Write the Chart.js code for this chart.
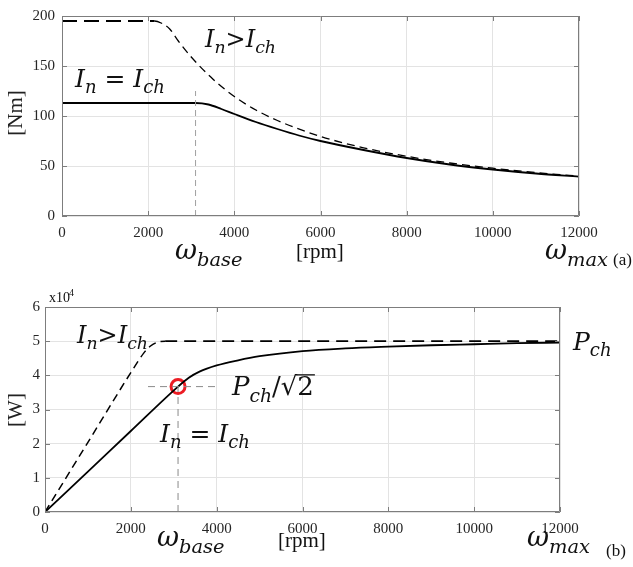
<!DOCTYPE html>
<html>
<head>
<meta charset="utf-8">
<script src="https://cdn.jsdelivr.net/npm/chart.js@4.4.1/dist/chart.umd.min.js"></script>
<style>
  body { margin: 0; background: #fff; }
  #wrap { position: relative; width: 633px; height: 567px; }
  canvas { position: absolute; left: 0; }
  #torqueChart { top: 0; }
  #powerChart { top: 280px; }
</style>
</head>
<body>
<div id="wrap">
  <canvas id="torqueChart" width="633" height="280"></canvas>
  <canvas id="powerChart" width="633" height="287"></canvas>
</div>
<script>
// axis ranges / ticks
const rpmTicks = [0, 2000, 4000, 6000, 8000, 10000, 12000];
const torqueTicks = [0, 50, 100, 150, 200];
const powerTicks = [0, 10000, 20000, 30000, 40000, 50000, 60000];

// (a) torque, I_n > I_ch (dashed)
const tqHighRpm = [0, 2150, 2300, 2500, 2700, 3000, 3500, 4000, 4500, 5000, 6000, 7000, 8000, 9000, 10000, 11000, 12000];
const tqHigh    = [195, 195, 193, 187, 175, 159, 137, 119.5, 106, 95.5, 79.6, 68.2, 59.7, 53, 47.8, 43.4, 39.8];

// (a) torque, I_n = I_ch (solid)
const tqRatedRpm = [0, 3100, 3400, 3700, 4000, 4500, 5000, 5500, 6000, 7000, 8000, 9000, 10000, 11000, 12000];
const tqRated    = [113, 113, 111.5, 107, 102, 94, 87, 80.5, 75, 66, 58, 51.5, 46.5, 42.5, 39.4];

// (b) power, I_n > I_ch (dashed)
const pwHighRpm = [0, 1000, 2000, 2300, 2450, 2600, 2800, 4000, 6000, 8000, 10000, 12000];
const pwHigh    = [0, 20400, 40800, 46500, 48500, 49600, 50000, 50000, 50000, 50000, 50000, 50000];

// (b) power, I_n = I_ch (solid)
const pwRatedRpm = [0, 1000, 2000, 3100, 3350, 3600, 4000, 4500, 5000, 6000, 7000, 8000, 9000, 10000, 11000, 12000];
const pwRated    = [0, 11800, 23700, 36700, 39300, 41100, 42900, 44400, 45600, 47100, 47900, 48400, 48800, 49100, 49400, 49600];

// base speed marker
const baseRpm = [3100];
const basePower = [36700];
const baseTorqueTop = [125];
const basePowerLineRpm = [2400, 4000];

const SERIF = '"Liberation Serif", serif';
const MATH = '"DejaVu Serif", serif';
const zip = (xs, ys) => xs.map((x, i) => ({ x: x, y: ys[i] }));

// draw a formula made of [text, kind] pieces: '' italic, 's' italic subscript, 'u' upright, 'r' radicand with bar, 't' plain text
function drawMath(ctx, x, y, parts, size) {
    let cx = x;
    parts.forEach(p => {
        const kind = p[1] || '';
        const fs = kind === 's' ? size * 0.72 : size;
        const fam = kind === 't' ? SERIF : MATH;
        ctx.font = (kind === '' || kind === 's' ? 'italic ' : '') + fs + 'px ' + fam;
        const dy = kind === 's' ? size * 0.25 : 0;
        ctx.fillText(p[0], cx, y + dy);
        const w = ctx.measureText(p[0]).width;
        if (kind === 'r') ctx.fillRect(cx - 1, y - size * 0.8, w + 2, Math.max(1, size * 0.05));
        cx += w;
    });
}

const framePlugin = {
    id: 'frame',
    afterDraw(chart, args, opts) {
        const ctx = chart.ctx;
        const a = chart.chartArea;
        const xs = chart.scales.x, ys = chart.scales.y;
        ctx.save();
        ctx.strokeStyle = '#7d7d7d';
        ctx.lineWidth = 1;
        ctx.beginPath();
        ctx.rect(a.left + 0.5, a.top + 0.5, a.right - a.left - 1, a.bottom - a.top - 1);
        xs.ticks.forEach(t => {
            const px = Math.round(xs.getPixelForValue(t.value)) + 0.5;
            ctx.moveTo(px, a.bottom); ctx.lineTo(px, a.bottom - 5);
            ctx.moveTo(px, a.top); ctx.lineTo(px, a.top + 5);
        });
        ys.ticks.forEach(t => {
            const py = Math.round(ys.getPixelForValue(t.value)) + 0.5;
            ctx.moveTo(a.left, py); ctx.lineTo(a.left + 5, py);
            ctx.moveTo(a.right, py); ctx.lineTo(a.right - 5, py);
        });
        ctx.stroke();

        ctx.fillStyle = '#111';
        ctx.textBaseline = 'alphabetic';
        ctx.textAlign = 'left';
        (opts.labels || []).forEach(l => drawMath(ctx, l.x, l.y, l.parts, l.size));

        // rotated y title
        ctx.translate(opts.yTitle.x, opts.yTitle.y);
        ctx.rotate(-Math.PI / 2);
        ctx.textAlign = 'center';
        ctx.textBaseline = 'middle';
        ctx.font = '21px ' + SERIF;
        ctx.fillStyle = '#222';
        ctx.fillText(opts.yTitle.text, 0, 0);
        ctx.restore();
    }
};

function axisOptions(min, max, step, yWidth, xHeight, yPad, tickFmt) {
    const tickFont = { family: SERIF, size: 15 };
    return {
        x: {
            type: 'linear', min: 0, max: 12000,
            afterBuildTicks: s => { s.ticks = rpmTicks.map(v => ({ value: v })); },
            afterFit: s => { s.height = xHeight; },
            grid: { color: '#e3e3e3', drawTicks: false },
            border: { display: false },
            ticks: { color: '#262626', font: tickFont, padding: 8, maxRotation: 0, callback: v => String(v) }
        },
        y: {
            type: 'linear', min: min, max: max,
            ticks: { stepSize: step, color: '#262626', font: tickFont, padding: yPad, callback: tickFmt },
            afterFit: s => { s.width = yWidth; },
            grid: { color: '#e3e3e3', drawTicks: false },
            border: { display: false }
        }
    };
}

const solidStyle = { borderColor: '#000', borderWidth: 1.8, pointRadius: 0, fill: false, cubicInterpolationMode: 'monotone' };

// (a) torque chart
new Chart(document.getElementById('torqueChart'), {
    type: 'line',
    data: {
        datasets: [
            {
                data: zip([baseRpm[0], baseRpm[0]], [0, baseTorqueTop[0]]),
                borderColor: '#a0a0a0', borderWidth: 1, borderDash: [6, 4], pointRadius: 0
            },
            Object.assign({}, solidStyle, {
                data: zip(tqHighRpm, tqHigh),
                borderWidth: 1.3,
                segment: {
                    borderWidth: c => c.p0DataIndex === 0 ? 2 : 1.3,
                    borderDash: c => c.p0DataIndex === 0 ? [15, 7] : [8, 5]
                }
            }),
            Object.assign({ data: zip(tqRatedRpm, tqRated) }, solidStyle)
        ]
    },
    options: {
        responsive: false,
        animation: false,
        parsing: false,
        layout: { padding: { left: 0, right: 54, top: 9, bottom: 0 } },
        plugins: {
            legend: { display: false },
            tooltip: { enabled: false },
            frame: {
                yTitle: { text: '[Nm]', x: 16, y: 113 },
                labels: [
                    { x: 205, y: 47, size: 24, parts: [['I'], ['n', 's'], ['>', 'u'], ['I'], ['ch', 's']] },
                    { x: 75, y: 87, size: 25, parts: [['I'], ['n', 's'], [' = ', 'u'], ['I'], ['ch', 's']] },
                    { x: 175, y: 259, size: 27, parts: [['ω'], ['base', 's']] },
                    { x: 296, y: 258, size: 21, parts: [['[rpm]', 't']] },
                    { x: 545, y: 259, size: 27, parts: [['ω'], ['max', 's']] },
                    { x: 613, y: 265, size: 17, parts: [['(a)', 't']] }
                ]
            }
        },
        scales: axisOptions(0, 200, 50, 62, 64, 7, v => v)
    },
    plugins: [framePlugin]
});

// (b) power chart
new Chart(document.getElementById('powerChart'), {
    type: 'line',
    data: {
        datasets: [
            {
                data: zip([baseRpm[0], baseRpm[0]], [0, basePower[0]]),
                borderColor: '#8a8a8a', borderWidth: 1, borderDash: [7, 5], pointRadius: 0
            },
            {
                data: zip(basePowerLineRpm, [basePower[0], basePower[0]]),
                borderColor: '#8a8a8a', borderWidth: 1, borderDash: [7, 5], pointRadius: 0
            },
            Object.assign({}, solidStyle, {
                data: zip(pwHighRpm, pwHigh),
                borderWidth: 1.5,
                segment: {
                    borderWidth: c => c.p0DataIndex >= 6 ? 1.8 : 1.5,
                    borderDash: c => c.p0DataIndex >= 6 ? [12, 7] : [8, 5]
                }
            }),
            Object.assign({ data: zip(pwRatedRpm, pwRated) }, solidStyle),
            {
                data: zip(baseRpm, basePower),
                showLine: false,
                pointRadius: 7, pointBorderWidth: 3,
                pointBorderColor: '#ec1c24', pointBackgroundColor: '#ffffff'
            }
        ]
    },
    options: {
        responsive: false,
        animation: false,
        parsing: false,
        layout: { padding: { left: 0, right: 73, top: 27, bottom: 0 } },
        plugins: {
            legend: { display: false },
            tooltip: { enabled: false },
            frame: {
                yTitle: { text: '[W]', x: 16, y: 130 },
                labels: [
                    { x: 49, y: 22, size: 14, parts: [['x10', 't']] },
                    { x: 69, y: 16, size: 10, parts: [['4', 't']] },
                    { x: 77, y: 63, size: 24, parts: [['I'], ['n', 's'], ['>', 'u'], ['I'], ['ch', 's']] },
                    { x: 232, y: 115, size: 26, parts: [['P'], ['ch', 's'], ['/', 'u'], ['√', 'u'], ['2', 'r']] },
                    { x: 160, y: 162, size: 25, parts: [['I'], ['n', 's'], [' = ', 'u'], ['I'], ['ch', 's']] },
                    { x: 573, y: 70, size: 25, parts: [['P'], ['ch', 's']] },
                    { x: 157, y: 266, size: 27, parts: [['ω'], ['base', 's']] },
                    { x: 278, y: 267, size: 21, parts: [['[rpm]', 't']] },
                    { x: 527, y: 266, size: 27, parts: [['ω'], ['max', 's']] },
                    { x: 606, y: 276, size: 17, parts: [['(b)', 't']] }
                ]
            }
        },
        scales: axisOptions(0, 60000, 10000, 45, 55, 5, v => v / 10000)
    },
    plugins: [framePlugin]
});
</script>
</body>
</html>
